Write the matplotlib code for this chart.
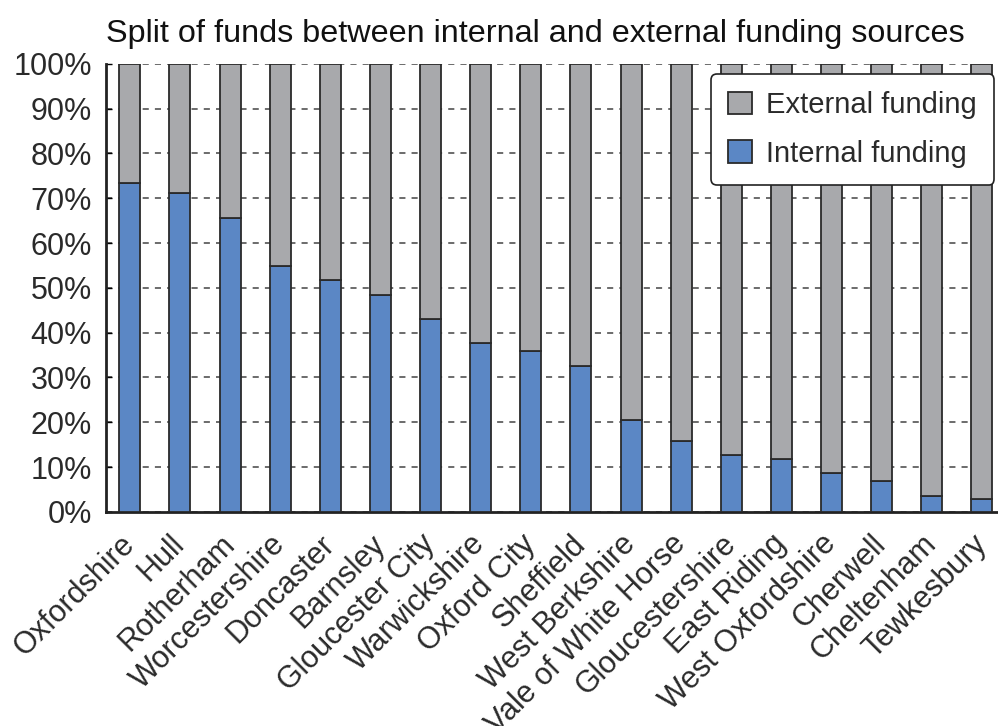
import matplotlib
matplotlib.use("Agg")
import matplotlib.pyplot as plt
import numpy as np

categories = ["Oxfordshire", "Hull", "Rotherham", "Worcestershire", "Doncaster",
              "Barnsley", "Gloucester City", "Warwickshire", "Oxford City", "Sheffield",
              "West Berkshire", "Vale of White Horse", "Gloucestershire", "East Riding",
              "West Oxfordshire", "Cherwell", "Cheltenham", "Tewkesbury"]
internal = [73.4, 71.1, 65.7, 54.8, 51.7, 48.5, 43.1, 37.6, 35.8, 32.6,
            20.5, 15.9, 12.7, 11.9, 8.7, 6.9, 3.6, 2.8]
external = [100 - v for v in internal]
yticks = [0, 10, 20, 30, 40, 50, 60, 70, 80, 90, 100]
ytick_labels = [f"{v}%" for v in yticks]

plt.rcParams['font.family'] = ['Liberation Sans', 'DejaVu Sans']
txt = "#2a2a2a"

fig = plt.figure(figsize=(9.98, 7.26), dpi=100)
ax = fig.add_axes([0.106, 0.295, 0.894, 0.617])

x = np.arange(len(categories))
w = 0.42
ax.bar(x, internal, w, color="#5b87c5", edgecolor="#2a2a2a", linewidth=1.3,
       label="Internal funding", zorder=3)
ax.bar(x, external, w, bottom=internal, color="#a8a9ac", edgecolor="#2a2a2a",
       linewidth=1.3, label="External funding", zorder=3)

ax.set_xlim(-0.48, 17.32)
ax.set_ylim(0, 100)
ax.set_yticks(yticks)
ax.set_yticklabels(ytick_labels, fontsize=22, color=txt)
ax.set_xticks(x)
ax.set_xticklabels(categories, rotation=45, ha="right", va="center",
                   rotation_mode="anchor", fontsize=22, color=txt)
ax.tick_params(axis="y", direction="in", length=4, width=1, pad=10)
ax.tick_params(axis="x", length=0, pad=20)

ax.grid(axis="y", linestyle=(0, (4, 4)), color="#444444", linewidth=1.1, zorder=0)
for s in ["top", "right"]:
    ax.spines[s].set_visible(False)
for s in ["left", "bottom"]:
    ax.spines[s].set_linewidth(2)
    ax.spines[s].set_color("#222222")

ax.set_title("Split of funds between internal and external funding sources",
             fontsize=23.3, color="#111111", pad=16, loc="left")

h, l = ax.get_legend_handles_labels()
leg = ax.legend(h[::-1], l[::-1], loc="upper left", bbox_to_anchor=(0.678, 0.978),
                fontsize=21, frameon=True, fancybox=True, framealpha=1,
                edgecolor="#222222", handlelength=0.8, handleheight=0.8,
                handletextpad=0.5, borderpad=0.6, labelspacing=0.7,
                borderaxespad=0)
leg.get_frame().set_linewidth(1.2)
for t in leg.get_texts():
    t.set_color(txt)
leg.set_zorder(5)

fig.savefig("out.png", dpi=100)
